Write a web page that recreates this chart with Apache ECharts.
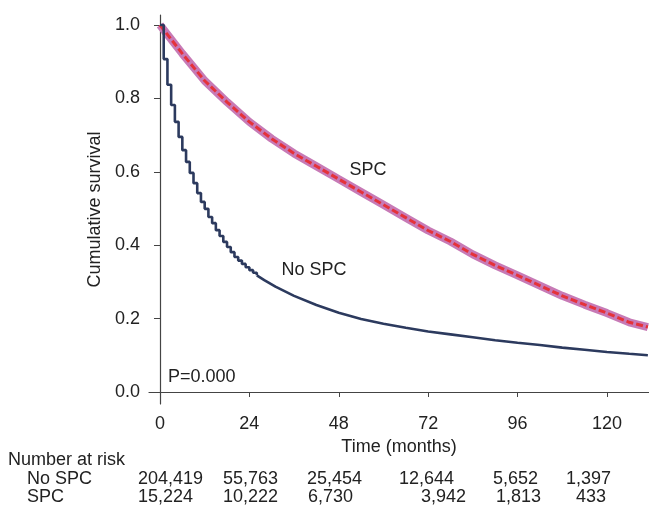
<!DOCTYPE html>
<html>
<head>
<meta charset="utf-8">
<script src="https://cdn.jsdelivr.net/npm/echarts@6/dist/echarts.min.js"></script>
<style>
html, body { margin: 0; padding: 0; background: #fff; }
#chart { width: 649px; height: 511px; }
</style>
</head>
<body>
<div id="chart"></div>
<script>
// 曲线数据（月份 / 生存率）
// No SPC 前期按月阶梯
var noSpcEarlyMonths = [0, 1, 2, 3, 4, 5, 6, 7, 8, 9, 10, 11, 12, 13, 14, 15, 16, 17, 18, 19, 20, 21, 22, 23, 24, 25, 26];
var noSpcEarlySurv = [1.000, 0.907, 0.837, 0.782, 0.736, 0.695, 0.659, 0.627, 0.597, 0.569, 0.542, 0.518, 0.499, 0.477, 0.460, 0.441, 0.425, 0.409, 0.395, 0.381, 0.368, 0.358, 0.349, 0.340, 0.332, 0.325, 0.318];
// No SPC 后期
var noSpcLateMonths = [26, 28, 31, 36, 42, 48, 54, 60, 66, 72, 78, 84, 90, 96, 102, 108, 114, 120, 126, 131];
var noSpcLateSurv = [0.318, 0.305, 0.287, 0.262, 0.237, 0.216, 0.199, 0.186, 0.175, 0.165, 0.157, 0.149, 0.141, 0.134, 0.128, 0.121, 0.115, 0.109, 0.104, 0.100];

var spcMonths = [0, 6, 12, 18, 24, 30, 36, 42, 48, 54, 60, 66, 72, 78, 84, 90, 96, 102, 108, 114, 120, 126, 131];
var spcSurv = [1.000, 0.922, 0.848, 0.790, 0.736, 0.690, 0.650, 0.615, 0.580, 0.545, 0.510, 0.475, 0.440, 0.410, 0.375, 0.345, 0.318, 0.290, 0.262, 0.238, 0.215, 0.190, 0.177];

// 坐标轴刻度
var xTicks = [0, 24, 48, 72, 96, 120];
var yTicks = [0, 0.2, 0.4, 0.6, 0.8, 1.0];

// Number at risk 表
var riskGroups = ['No SPC', 'SPC'];
var riskNoSpc = ['204,419', '55,763', '25,454', '12,644', '5,652', '1,397'];
var riskSpc = ['15,224', '10,222', '6,730', '3,942', '1,813', '433'];

// 表格文字位置（布局）
var riskX = [[138, 223, 307, 399, 493, 566], [138, 223, 308, 421, 496, 576]];
var riskY = [479, 497];

var FONT = 'Liberation Sans, Arial, sans-serif';
var FS = 18;
var TXT = '#222';

function pairs(xs, ys) {
    var out = [];
    for (var i = 0; i < xs.length; i++) {
        out.push([xs[i], ys[i]]);
    }
    return out;
}

function txt(x, y, s, align) {
    return {
        type: 'text', x: x, y: y,
        style: { text: s, font: FS + 'px ' + FONT, fill: TXT, align: align || 'left', verticalAlign: 'middle' }
    };
}

var graphics = [
    txt(8, 460, 'Number at risk'),
    txt(368, 170, 'SPC', 'center'),
    txt(314, 270, 'No SPC', 'center'),
    txt(168, 377, 'P=0.000')
];
var riskRows = [riskNoSpc, riskSpc];
for (var r = 0; r < riskRows.length; r++) {
    graphics.push(txt(27, riskY[r], riskGroups[r]));
    for (var c = 0; c < riskRows[r].length; c++) {
        graphics.push(txt(riskX[r][c], riskY[r], riskRows[r][c]));
    }
}

var myChart = echarts.init(document.getElementById('chart'));
var option = {
    animation: false,
    backgroundColor: '#fff',
    grid: { left: 149, right: 0, top: 15, bottom: 107, containLabel: false },
    xAxis: {
        type: 'value',
        min: -2.95,
        max: 131.3,
        name: 'Time (months)',
        nameLocation: 'middle',
        nameGap: 30,
        nameTextStyle: { fontFamily: FONT, fontSize: FS, color: TXT },
        axisLine: { show: true, lineStyle: { color: '#444', width: 1.2 } },
        axisTick: { show: true, length: 5, customValues: xTicks, lineStyle: { color: '#444' } },
        axisLabel: { customValues: xTicks, margin: 11, fontFamily: FONT, fontSize: FS, color: TXT },
        splitLine: { show: false }
    },
    yAxis: {
        type: 'value',
        min: -0.0327,
        max: 1.0272,
        name: 'Cumulative survival',
        nameLocation: 'middle',
        nameGap: 45,
        nameTextStyle: { fontFamily: FONT, fontSize: FS, color: TXT },
        axisLine: { show: true, lineStyle: { color: '#444', width: 1.2 } },
        axisTick: { show: true, length: 6, customValues: yTicks, lineStyle: { color: '#444' } },
        axisLabel: {
            customValues: yTicks, margin: 9, fontFamily: FONT, fontSize: FS, color: TXT,
            formatter: function (v) { return v.toFixed(1); }
        },
        splitLine: { show: false }
    },
    graphic: graphics,
    series: [
        {
            name: 'SPC CI',
            type: 'line',
            data: pairs(spcMonths, spcSurv),
            showSymbol: false,
            lineStyle: { color: '#c77ab6', width: 8 },
            z: 2
        },
        {
            name: 'SPC',
            type: 'line',
            data: pairs(spcMonths, spcSurv),
            showSymbol: false,
            lineStyle: { color: '#e5323a', width: 3, type: [7, 3] },
            z: 3
        },
        {
            name: 'No SPC',
            type: 'line',
            step: 'end',
            data: pairs(noSpcEarlyMonths, noSpcEarlySurv),
            showSymbol: false,
            lineStyle: { color: '#2c3a5e', width: 2.6 },
            z: 4
        },
        {
            name: 'No SPC late',
            type: 'line',
            data: pairs(noSpcLateMonths, noSpcLateSurv),
            showSymbol: false,
            lineStyle: { color: '#2c3a5e', width: 2.6 },
            z: 4
        }
    ]
};
myChart.setOption(option);
</script>
</body>
</html>
